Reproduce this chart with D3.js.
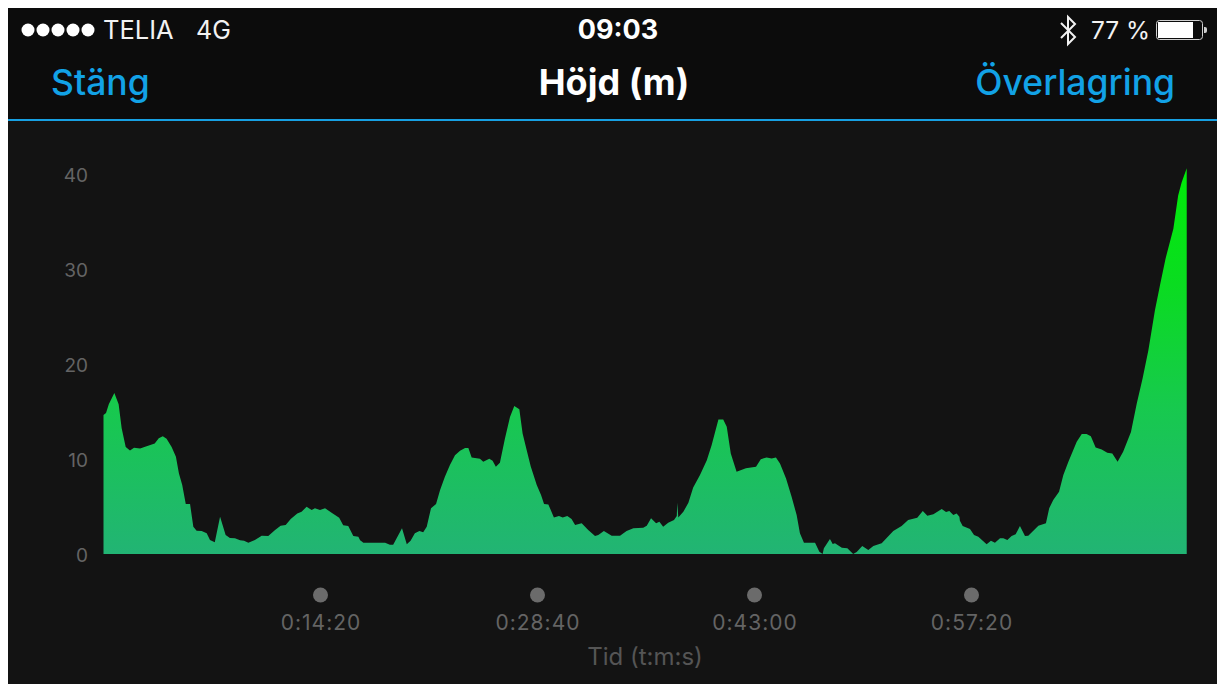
<!DOCTYPE html>
<html>
<head>
<meta charset="utf-8">
<title>Höjd (m)</title>
<script src="https://cdn.jsdelivr.net/npm/d3@7"></script>
<style>
html, body { margin: 0; padding: 0; background: #fff; overflow: hidden; }
text { font-family: Inter, Roboto, "Liberation Sans", sans-serif; }
</style>
</head>
<body>
<div id="chart"></div>
<script>
// elapsed time in seconds
var seconds = [0,10,21,43,60,72,88,105,121,145,171,203,219,235,250,270,287,299,312,326,343,356,369,389,409,422,441,462,484,501,521,541,557,574,600,627,653,680,702,722,742,768,785,805,825,838,858,878,904,934,950,970,990,1010,1017,1030,1116,1135,1148,1183,1202,1217,1234,1252,1267,1281,1298,1318,1334,1353,1373,1393,1413,1433,1446,1459,1492,1505,1529,1542,1555,1571,1591,1611,1628,1648,1661,1677,1693,1717,1734,1746,1763,1785,1805,1820,1838,1855,1869,1895,1921,1948,1961,1983,2014,2047,2073,2100,2139,2153,2170,2190,2203,2218,2238,2261,2272,2274,2278,2298,2318,2337,2364,2391,2410,2437,2456,2470,2486,2509,2546,2586,2605,2628,2648,2665,2681,2705,2727,2747,2760,2776,2820,2837,2850,2855,2879,2890,2899,2926,2948,2971,2985,3007,3031,3051,3084,3130,3163,3189,3225,3247,3265,3289,3322,3339,3352,3368,3381,3392,3394,3405,3434,3450,3467,3500,3517,3533,3553,3566,3582,3599,3615,3632,3652,3665,3705,3735,3748,3764,3787,3804,3824,3857,3877,3896,3913,3932,3956,3978,3998,4019,4041,4072,4095,4118,4141,4167,4187,4209,4240,4259,4273,4293];

// height in metres for each time above
var heights = [14.66,14.87,15.79,16.98,15.79,13.26,11.29,10.92,11.19,11.13,11.37,11.65,12.21,12.42,12.14,11.29,10.24,8.49,7.26,5.26,5.26,2.87,2.45,2.42,2.18,1.47,1.23,3.93,2.00,1.68,1.65,1.44,1.40,1.19,1.47,1.93,1.89,2.53,2.98,3.05,3.68,4.28,4.45,4.98,4.63,4.81,4.63,4.81,4.35,3.82,3.02,2.95,1.89,1.82,1.44,1.19,1.19,0.98,0.98,2.71,1.02,1.40,2.18,2.42,2.28,2.87,4.81,5.26,6.74,8.14,9.37,10.42,10.87,11.16,11.16,10.18,10.03,9.72,10.03,9.82,9.19,9.61,12.18,14.45,15.61,15.26,12.71,10.95,9.26,7.26,6.21,5.26,5.23,3.86,4.00,3.86,4.00,3.68,3.05,3.23,2.53,1.89,2.00,2.42,1.93,1.93,2.42,2.71,2.77,2.98,3.76,3.23,3.40,2.87,3.29,3.58,4.00,5.40,3.86,4.45,5.40,7.02,8.32,9.89,11.47,14.18,14.18,13.40,10.60,8.66,9.05,9.19,10.00,10.18,10.07,10.18,9.55,7.97,6.03,4.11,2.18,1.19,1.19,0.24,0,0.60,1.58,1.05,1.13,0.66,0.60,0,0.21,0.84,0.42,0.84,1.13,2.42,2.95,3.58,3.82,4.53,4.03,4.18,4.74,4.42,4.53,4.11,4.28,3.93,3.51,2.95,2.63,2.00,1.82,1.02,1.40,1.19,1.65,1.65,1.47,1.89,2.07,2.95,1.89,1.93,2.98,3.23,4.81,5.68,6.56,8.32,9.72,11.82,12.66,12.66,12.42,11.23,11.02,10.66,10.60,9.72,10.77,12.87,15.86,18.49,21.47,25.68,28.32,31.13,34.28,37.79,39.19,40.66];

var yTicks = [0, 10, 20, 30, 40];
var xTicks = [860, 1720, 2580, 3440];
var xTickLabels = ["0:14:20", "0:28:40", "0:43:00", "0:57:20"];

var width = 1217, height = 684;

var svg = d3.select("#chart").append("svg")
    .attr("width", width)
    .attr("height", height)
    .style("display", "block");

// backgrounds
svg.append("rect").attr("x", 8).attr("y", 8).attr("width", width - 8).attr("height", height - 8).attr("fill", "#131313");
svg.append("rect").attr("x", 8).attr("y", 8).attr("width", width - 8).attr("height", 111).attr("fill", "#0c0c0c");
svg.append("rect").attr("x", 8).attr("y", 119).attr("width", width - 8).attr("height", 2).attr("fill", "#17a0e2");

// scales
var x = d3.scaleLinear().domain([0, 860]).range([103.5, 320.5]);
var y = d3.scaleLinear().domain([0, 40]).range([554, 174.5]);

// gradient follows the height of the picture
var defs = svg.append("defs");
var grad = defs.append("linearGradient")
    .attr("id", "areaFill")
    .attr("gradientUnits", "userSpaceOnUse")
    .attr("x1", 0).attr("x2", 0)
    .attr("y1", y(40.66)).attr("y2", y(0));
grad.append("stop").attr("offset", "0%").attr("stop-color", "#00ec08");
grad.append("stop").attr("offset", "30%").attr("stop-color", "#0adc20");
grad.append("stop").attr("offset", "62%").attr("stop-color", "#17c94e");
grad.append("stop").attr("offset", "100%").attr("stop-color", "#22b474");

var points = seconds.map(function(s, i) { return [s, heights[i]]; });

var area = d3.area()
    .x(function(d) { return x(d[0]); })
    .y0(y(0))
    .y1(function(d) { return y(d[1]); });

svg.append("path")
    .datum(points)
    .attr("d", area)
    .attr("fill", "url(#areaFill)");

// y axis
var yAxis = svg.append("g")
    .attr("transform", "translate(88,1)")
    .call(d3.axisLeft(y).tickValues(yTicks).tickSize(0).tickPadding(0));
yAxis.select(".domain").remove();
yAxis.selectAll("text")
    .attr("fill", "#646464")
    .style("font-size", "19px")
    .style("font-family", "Inter, Roboto, sans-serif");

// x axis
var xAxis = svg.append("g")
    .attr("transform", "translate(0,630)")
    .call(d3.axisBottom(x).tickValues(xTicks).tickSize(0).tickPadding(0)
        .tickFormat(function(d, i) { return xTickLabels[i]; }));
xAxis.select(".domain").remove();
xAxis.selectAll("text")
    .attr("y", 0).attr("dy", 0)
    .attr("fill", "#646464")
    .style("font-size", "21px")
    .style("letter-spacing", "1px")
    .style("font-family", "Inter, Roboto, sans-serif");

svg.append("g").selectAll("circle")
    .data(xTicks)
    .join("circle")
    .attr("cx", function(d) { return x(d); })
    .attr("cy", 595)
    .attr("r", 7.5)
    .attr("fill", "#6b6b6b");

svg.append("text")
    .attr("x", 645).attr("y", 665)
    .attr("text-anchor", "middle")
    .attr("fill", "#555555")
    .style("font-size", "24px")
    .text("Tid (t:m:s)");

// nav bar
function label(txt, px, py, size, weight, color, anchor) {
    return svg.append("text")
        .attr("x", px).attr("y", py)
        .attr("text-anchor", anchor || "start")
        .attr("fill", color)
        .style("font-size", size + "px")
        .style("font-weight", weight)
        .text(txt);
}

label("Stäng", 51, 95, 35.5, 500, "#12a2e6");
label("Höjd (m)", 614, 95, 36, 700, "#ffffff", "middle");
label("Överlagring", 1175, 95, 35.5, 500, "#12a2e6", "end");

// status bar
svg.append("g").selectAll("circle")
    .data([0, 1, 2, 3, 4])
    .join("circle")
    .attr("cx", function(d) { return 28 + d * 15; })
    .attr("cy", 30)
    .attr("r", 6.5)
    .attr("fill", "#ffffff");

label("TELIA", 103, 39, 25.5, 400, "#f2f2f2");
label("4G", 196, 39, 25, 400, "#f2f2f2");
label("09:03", 618, 39, 27, 700, "#ffffff", "middle");
label("77 %", 1091, 39, 24.5, 400, "#f2f2f2");

// bluetooth glyph
svg.append("path")
    .attr("d", "M1061,23 L1075,37 L1068,44 L1068,17 L1075,24 L1061,38")
    .attr("fill", "none")
    .attr("stroke", "#f2f2f2")
    .attr("stroke-width", 2);

// battery
svg.append("rect").attr("x", 1156.5).attr("y", 20.5).attr("width", 46).attr("height", 19).attr("rx", 3)
    .attr("fill", "none").attr("stroke", "#cfcfcf").attr("stroke-width", 1);
svg.append("rect").attr("x", 1158).attr("y", 22).attr("width", 35).attr("height", 16).attr("fill", "#ffffff");
svg.append("path").attr("d", "M1204,27 h1 a2,2 0 0 1 2,2 v2 a2,2 0 0 1 -2,2 h-1 z").attr("fill", "#cfcfcf");
</script>
</body>
</html>
